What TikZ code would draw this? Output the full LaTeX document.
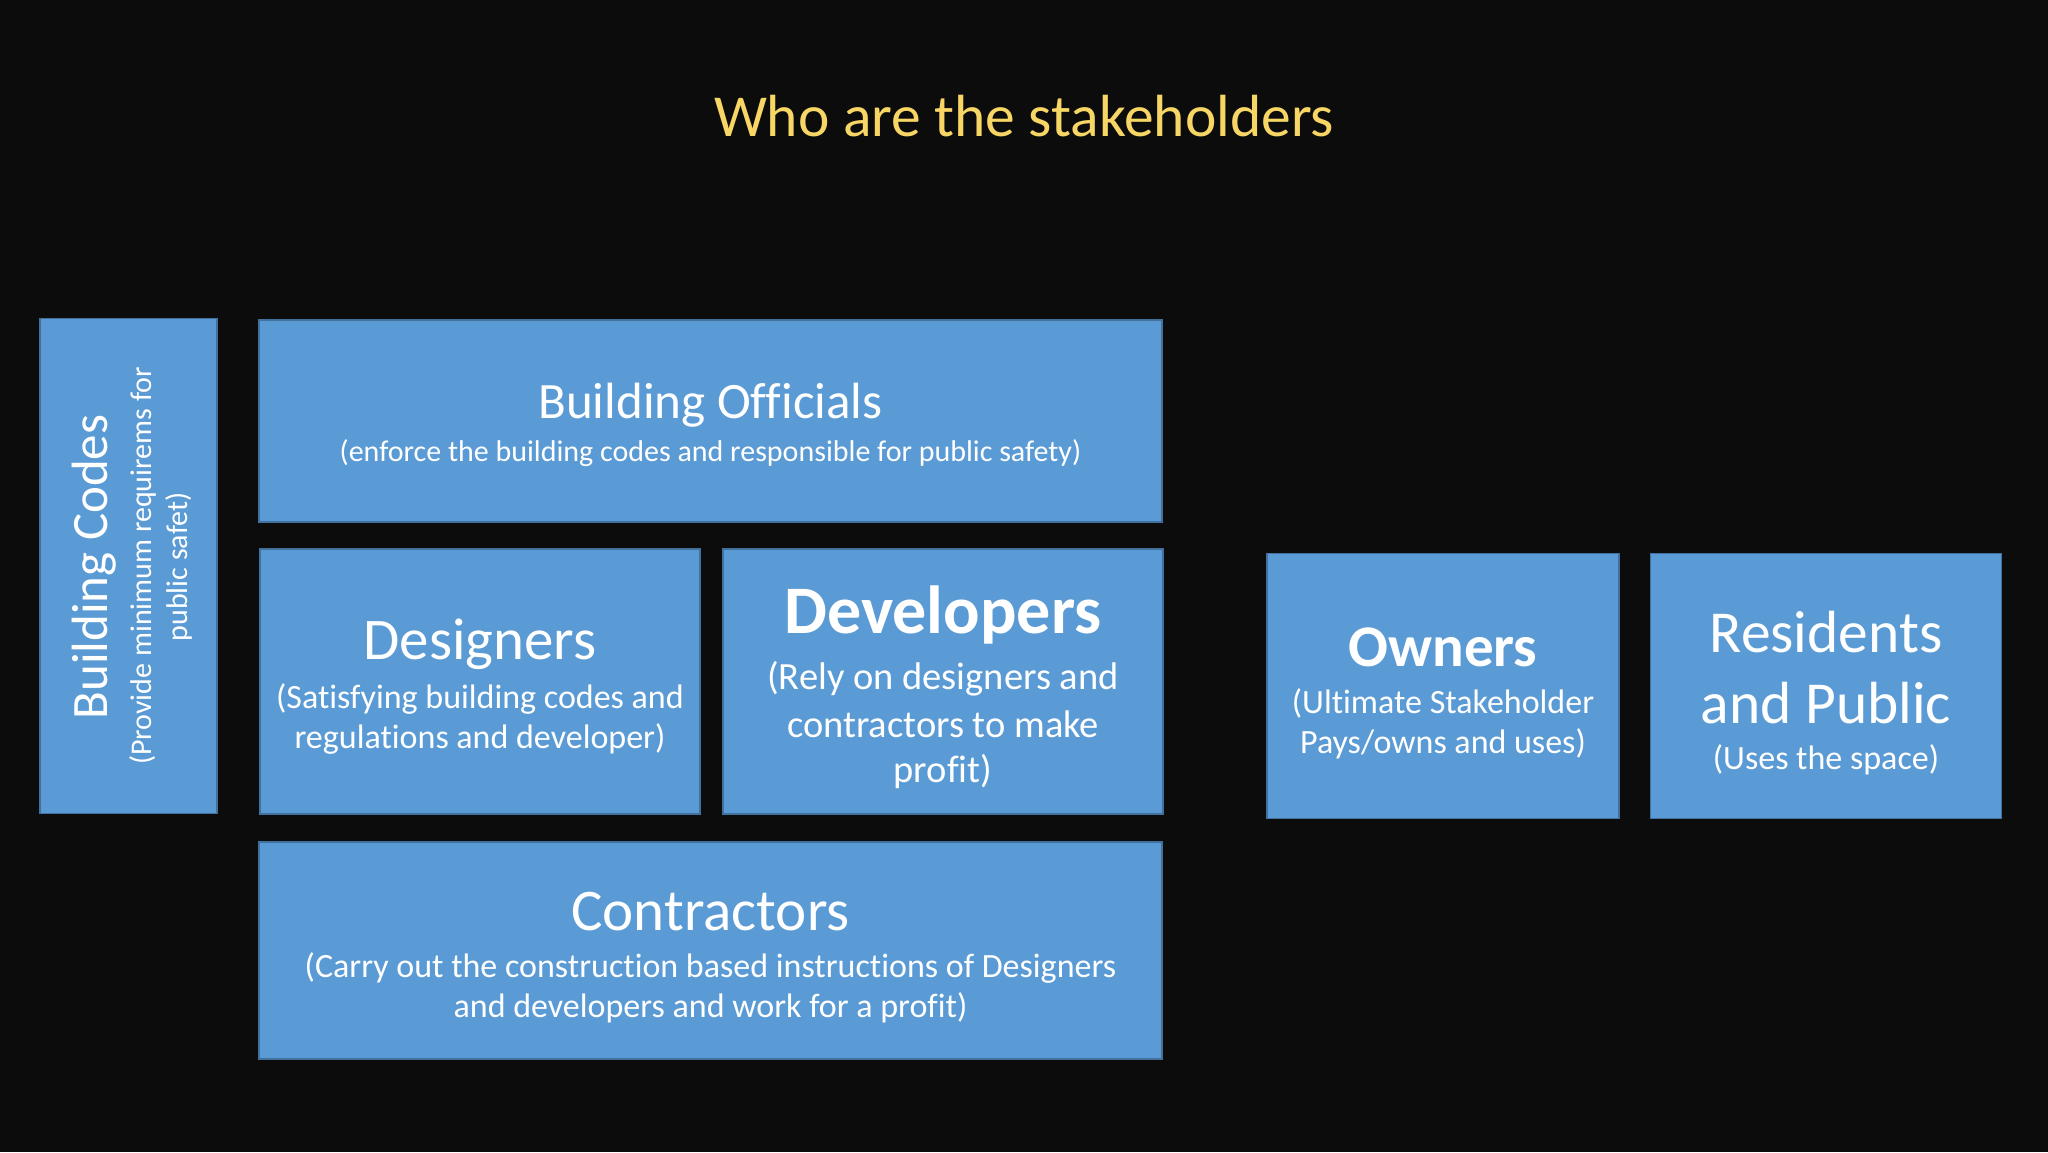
\documentclass[tikz,border=0pt]{standalone}
\usepackage{fontspec}
\setmainfont[Ligatures=NoCommon]{Carlito}
\definecolor{bg}{HTML}{0C0C0D}
\definecolor{boxfill}{HTML}{5B9BD5}
\definecolor{boxline}{HTML}{41719C}
\definecolor{titlegold}{HTML}{F8D665}
\newcommand{\fs}[1]{\fontsize{#1}{#1}\selectfont}
\tikzset{
  box/.style={draw=boxline, line width=1.5pt, fill=boxfill, inner sep=0pt},
  txt/.style={text=white, inner sep=0pt, align=center},
}
\begin{document}
\begin{tikzpicture}[x=1pt,y=-1pt]
\fill[bg] (0,0) rectangle (2048,1152);
\useasboundingbox (0,0) rectangle (2048,1152);
\node[text=titlegold, inner sep=0pt] (title) at (1024,116) {\fs{59.5}Who are the stakeholders};
% boxes
\node[box, minimum width=177pt, minimum height=495pt] (codes) at (128.5,566) {};
\node[box, minimum width=903pt, minimum height=202pt] (officials) at (710.5,421) {};
\node[box, minimum width=440pt, minimum height=265pt] (designers) at (480,681.5) {};
\node[box, minimum width=440pt, minimum height=265pt] (developers) at (943,681.5) {};
\node[box, minimum width=903pt, minimum height=217pt] (contractors) at (710.5,950.5) {};
\node[box, minimum width=352pt, minimum height=265pt] (owners) at (1443,686) {};
\node[box, minimum width=351pt, minimum height=265pt] (residents) at (1826,686) {};
% Building codes (rotated)
\node[txt, rotate=90] (codesT) at (94,567) {\fs{51}Building Codes};
\node[txt, rotate=90] (codesS1) at (143,566) {\fs{30}(Provide minimum requirems for};
\node[txt, rotate=90] (codesS2) at (179,567) {\fs{30}public safet)};
% Building officials
\node[txt] (offT) at (710.5,405) {\fs{51}Building Officials};
\node[txt] (offS) at (710.5,453) {\fs{30}(enforce the building codes and responsible for public safety)};
% Designers
\node[txt] (desT) at (480,644) {\fs{59}Designers};
\node[txt] (desS1) at (480,699) {\fs{34}(Satisfying building codes and};
\node[txt] (desS2) at (480,739) {\fs{34}regulations and developer)};
% Developers
\node[txt] (devT) at (943,615) {\fs{68}\bfseries Developers};
\node[txt] (devS1) at (943,679) {\fs{38.5}(Rely on designers and};
\node[txt] (devS2) at (943,724) {\fs{38.5}contractors to make};
\node[txt] (devS3) at (943,772) {\fs{38.5}profit)};
% Contractors
\node[txt] (conT) at (710.5,912) {\fs{59}Contractors};
\node[txt] (conS1) at (710.5,968) {\fs{34}(Carry out the construction based instructions of Designers};
\node[txt] (conS2) at (710.5,1008) {\fs{34}and developers and work for a profit)};
% Owners
\node[txt] (ownT) at (1443,647) {\fs{59}\bfseries Owners};
\node[txt] (ownS1) at (1443,703) {\fs{34}(Ultimate Stakeholder};
\node[txt] (ownS2) at (1443,744) {\fs{34}Pays/owns and uses)};
% Residents
\node[txt] (resT1) at (1826,632) {\fs{59.5}Residents};
\node[txt] (resT2) at (1826,703) {\fs{59.5}and Public};
\node[txt] (resS) at (1826,760) {\fs{34}(Uses the space)};
\end{tikzpicture}
\end{document}
